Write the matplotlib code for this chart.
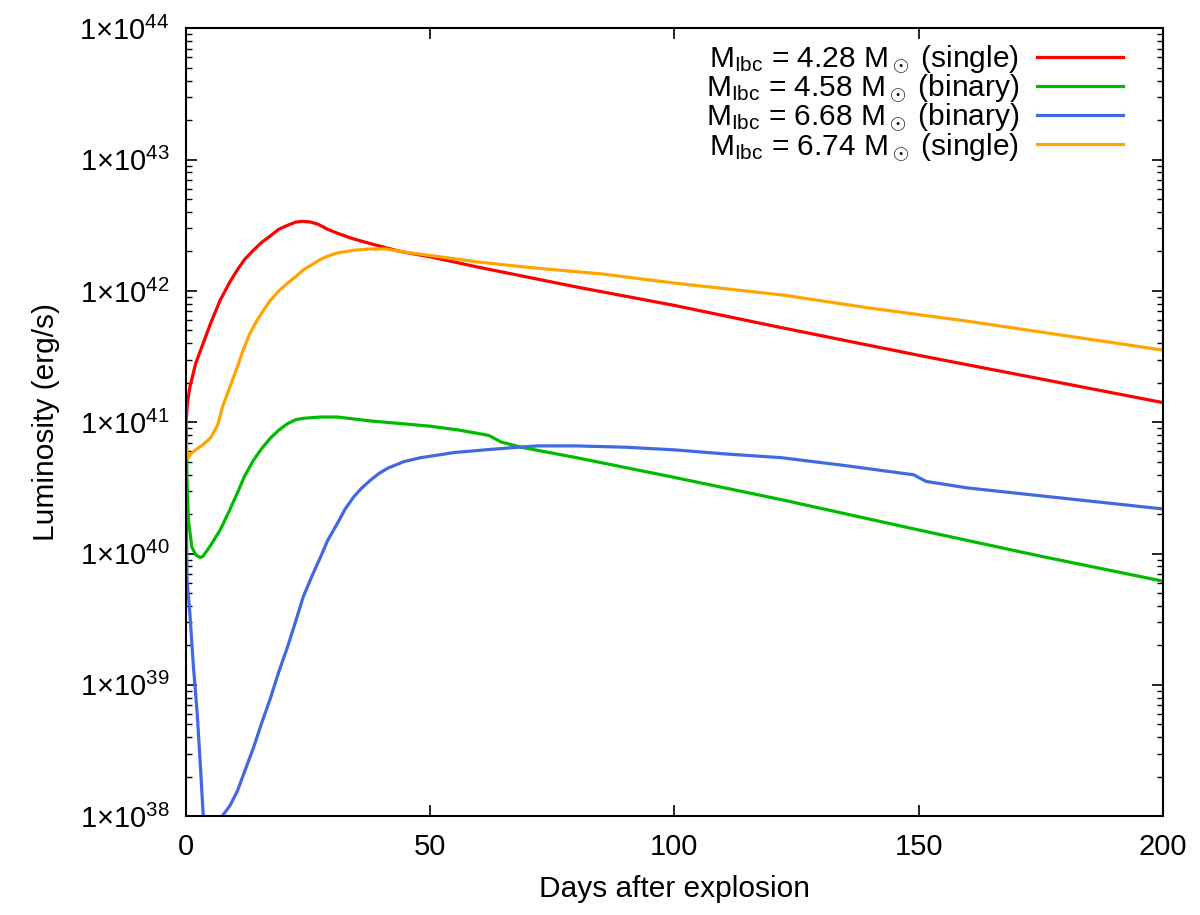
import matplotlib
matplotlib.use("Agg")
import matplotlib.pyplot as plt
import numpy as np
from matplotlib.ticker import FixedLocator, LogLocator, NullFormatter

plt.rcParams['font.family'] = ['Liberation Sans', 'DejaVu Sans']
plt.rcParams['mathtext.fontset'] = 'custom'
plt.rcParams['mathtext.rm'] = 'Liberation Sans'
plt.rcParams['mathtext.it'] = 'Liberation Sans:italic'
plt.rcParams['mathtext.bf'] = 'Liberation Sans:bold'

# ---- data: days after explosion and log10 luminosity (erg/s) ----
red_days = [0, 0.3, 0.8, 2, 3.5, 5, 7, 9, 10.5, 12, 13.8, 15.5, 17.3, 19, 20.8,
            22.5, 23.8, 25.5, 26.9, 28, 29, 30, 31, 34, 37.8, 44, 50, 60, 80, 100,
            122, 150, 175, 200]
red_logL = [41.00, 41.15, 41.27, 41.45, 41.60, 41.75, 41.93, 42.07, 42.16, 42.24,
            42.31, 42.37, 42.42, 42.47, 42.50, 42.525, 42.53, 42.525, 42.51, 42.49,
            42.47, 42.455, 42.44, 42.40, 42.36, 42.30, 42.26, 42.18, 42.03, 41.89,
            41.72, 41.51, 41.33, 41.15]

green_days = [0, 0.2, 0.5, 1.2, 2.0, 2.9, 3.5, 5, 7, 8.8, 10.5, 12, 13.8, 15.5,
              17.3, 19, 20.8, 22.5, 24, 27.5, 31, 37.8, 44, 50, 56, 62, 64.5,
              68.6, 80, 100, 122, 150, 175, 200]
green_logL = [41.15, 40.56, 40.25, 40.05, 39.99, 39.97, 39.98, 40.06, 40.18, 40.32,
              40.46, 40.59, 40.71, 40.80, 40.88, 40.94, 40.99, 41.02, 41.03, 41.04,
              41.04, 41.01, 40.99, 40.97, 40.94, 40.90, 40.85, 40.81, 40.73, 40.58,
              40.41, 40.18, 39.98, 39.79]

blue_days = [0, 0.2, 0.8, 1.5, 2.3, 3.0, 3.5, 5.5, 7.4, 9, 10.5, 12, 13.8, 15.5,
             17.3, 19, 20.8, 22.5, 24, 25.8, 27.5, 29, 31, 32.6, 34.3, 36, 37.8,
             39.5, 41.3, 44.6, 48, 55, 64.5, 72, 80, 90, 100, 110, 122, 135, 145,
             149, 150.5, 151.5, 160, 180, 200]
blue_logL = [40.56, 39.80, 39.54, 39.15, 38.78, 38.35, 38.02, 37.60, 38.00, 38.08,
             38.19, 38.34, 38.52, 38.71, 38.90, 39.10, 39.29, 39.49, 39.67, 39.83,
             39.97, 40.10, 40.23, 40.34, 40.43, 40.50, 40.56, 40.61, 40.65, 40.70,
             40.73, 40.77, 40.80, 40.82, 40.82, 40.81, 40.79, 40.76, 40.73, 40.67,
             40.62, 40.60, 40.57, 40.55, 40.50, 40.42, 40.34]

orange_days = [0, 0.4, 1, 2, 3.5, 5, 6.5, 7.5, 9, 10.5, 11.7, 13, 14.6, 16, 17.3,
               19, 20.8, 22.5, 24, 26, 27.5, 29, 31, 34.3, 37.8, 41, 44, 50, 60, 70,
               85, 100, 122, 140, 160, 180, 200]
orange_logL = [40.86, 40.73, 40.76, 40.79, 40.83, 40.88, 40.98, 41.12, 41.27, 41.42,
               41.55, 41.67, 41.78, 41.86, 41.93, 42.00, 42.06, 42.11, 42.16, 42.205,
               42.24, 42.265, 42.29, 42.31, 42.32, 42.32, 42.30, 42.27, 42.22, 42.18,
               42.13, 42.06, 41.97, 41.87, 41.77, 41.66, 41.55]

labels = [r'$\mathregular{M_{Ibc}}$ = 4.28 M$_\odot$ (single)',
          r'$\mathregular{M_{Ibc}}$ = 4.58 M$_\odot$ (binary)',
          r'$\mathregular{M_{Ibc}}$ = 6.68 M$_\odot$ (binary)',
          r'$\mathregular{M_{Ibc}}$ = 6.74 M$_\odot$ (single)']
colors = ['#ff0000', '#00bb00', '#4169e1', '#ffa500']

x_ticks = [0, 50, 100, 150, 200]
y_exps = [38, 39, 40, 41, 42, 43, 44]

fig = plt.figure(figsize=(12, 9.15), dpi=100)
ax = fig.add_axes([0.155, 0.108, 0.814, 0.861])

series = [(red_days, red_logL), (green_days, green_logL),
          (blue_days, blue_logL), (orange_days, orange_logL)]
for (d, l), c, lab in zip(series, colors, labels):
    ax.plot(d, 10.0 ** np.array(l), color=c, lw=2.3, label=lab,
            solid_joinstyle='round')

ax.set_yscale('log')
ax.set_xlim(0, 200)
ax.set_ylim(1e38, 1e44)
ax.xaxis.set_major_locator(FixedLocator(x_ticks))
ax.set_xticklabels([str(t) for t in x_ticks])
ax.yaxis.set_major_locator(FixedLocator([10.0 ** e for e in y_exps]))
ax.set_yticklabels([r'1$\times$10$^{%d}$' % e for e in y_exps])
ax.yaxis.set_minor_locator(LogLocator(base=10, subs=np.arange(2, 10)))
ax.yaxis.set_minor_formatter(NullFormatter())

ax.tick_params(which='both', direction='in', top=True, right=True, labelsize=21)
ax.tick_params(which='major', length=8, width=1.2, pad=12)
ax.tick_params(which='minor', length=4, width=1.0)
ax.tick_params(axis='x', which='minor', top=False, bottom=False)
for s in ax.spines.values():
    s.set_linewidth(1.5)

ax.set_xlabel('Days after explosion', fontsize=21.5, labelpad=10)
ax.set_ylabel('Luminosity (erg/s)', fontsize=21.5, labelpad=14)

ax.legend(loc='upper right', bbox_to_anchor=(0.975, 1.0), frameon=False,
          markerfirst=False, fontsize=21.5, handlelength=2.9,
          labelspacing=-0.1, handletextpad=0.6, borderaxespad=0.1)

fig.savefig('out.png', dpi=100)
